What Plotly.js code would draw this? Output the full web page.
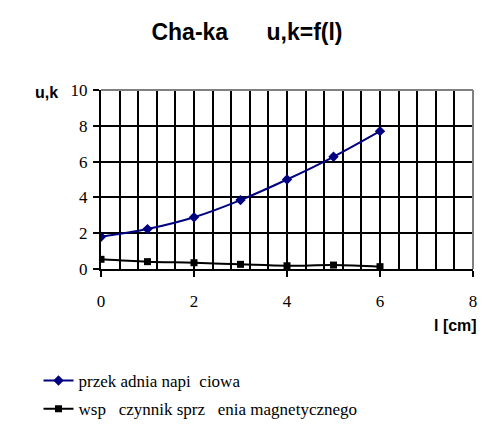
<!DOCTYPE html>
<html><head><meta charset="utf-8">
<script src="https://cdn.plot.ly/plotly-3.0.1.min.js"></script>
<style>body{margin:0;background:#fff}</style>
</head><body><div id="chart" style="width:494px;height:428px"></div>
<script>
var lengths = [0, 1, 2, 3, 4, 5, 6];
var voltageRatio = [1.8, 2.23, 2.89, 3.85, 5.0, 6.27, 7.7];
var couplingCoef = [0.54, 0.41, 0.35, 0.26, 0.18, 0.22, 0.13];
var seriesNames = ["przek adnia napi  ciowa", "wsp   czynnik sprz   enia magnetycznego"];
var titleText = "Cha-ka\u00a0\u00a0\u00a0\u00a0\u00a0\u00a0u,k=f(l)";

var serif = "Liberation Serif, Times New Roman, serif";
var sans = "Liberation Sans, Arial, sans-serif";

var traces = [
  {x: lengths, y: voltageRatio, name: seriesNames[0], mode: "lines+markers", legendgroup: "a",
   line: {color: "#000080", width: 2, shape: "spline"},
   marker: {symbol: "diamond", size: 8, color: "#000080"}},
  {x: lengths, y: couplingCoef, name: seriesNames[1], mode: "lines+markers", legendgroup: "b",
   line: {color: "#000000", width: 2, shape: "spline"},
   marker: {symbol: "square", size: 7, color: "#000000"}}
];

var layout = {
  width: 494, height: 428,
  margin: {l: 101, r: 21, t: 90, b: 159, autoexpand: false},
  paper_bgcolor: "#fff", plot_bgcolor: "#fff",
  showlegend: true,
  title: {text: "<b>" + titleText + "</b>", x: 0.5, xanchor: "center", y: 0.925, yanchor: "middle",
          font: {family: sans, size: 23, color: "#000"}},
  xaxis: {range: [0, 8], dtick: 2, tick0: 0, showgrid: true, gridcolor: "#000", gridwidth: 2,
          minor: {dtick: 0.4, tick0: 0, showgrid: true, gridcolor: "#000", gridwidth: 2},
          showline: true, linecolor: "#000", linewidth: 2, zeroline: false,
          ticks: "outside", ticklen: 6, tickwidth: 2, tickcolor: "#000",
          ticklabelstandoff: 10,
          tickfont: {family: serif, size: 17, color: "#000"}, fixedrange: true},
  yaxis: {range: [0, 10], dtick: 2, tick0: 0, showgrid: true, gridcolor: "#000", gridwidth: 2,
          showline: true, linecolor: "#000", linewidth: 2, zeroline: false,
          ticks: "outside", ticklen: 6, tickwidth: 2, tickcolor: "#000",
          ticklabelstandoff: 2,
          tickfont: {family: serif, size: 17, color: "#000"}, fixedrange: true},
  shapes: [
    {type: "line", xref: "paper", yref: "paper", x0: 0, x1: 1, y0: 1, y1: 1, line: {color: "#808080", width: 2}, layer: "above"},
    {type: "line", xref: "paper", yref: "paper", x0: 1, x1: 1, y0: 0, y1: 1, line: {color: "#808080", width: 2}, layer: "above"}
  ],
  annotations: [
    {text: "<b>u,k</b>", xref: "paper", yref: "paper", x: -0.11, y: 0.985, xanchor: "right", yanchor: "middle",
     showarrow: false, font: {family: sans, size: 16, color: "#000"}},
    {text: "<b>l [cm]</b>", xref: "paper", yref: "paper", x: 1.016, y: -0.313, xanchor: "right", yanchor: "middle",
     showarrow: false, font: {family: sans, size: 16, color: "#000"}}
  ],
  legend: {x: -0.168, y: -0.525, xanchor: "left", yanchor: "top", orientation: "v",
           font: {family: serif, size: 17, color: "#000"}, bgcolor: "rgba(0,0,0,0)",
           itemwidth: 30, tracegroupgap: 3}
};

Plotly.newPlot("chart", traces, layout, {displayModeBar: false, staticPlot: true});
</script></body></html>
